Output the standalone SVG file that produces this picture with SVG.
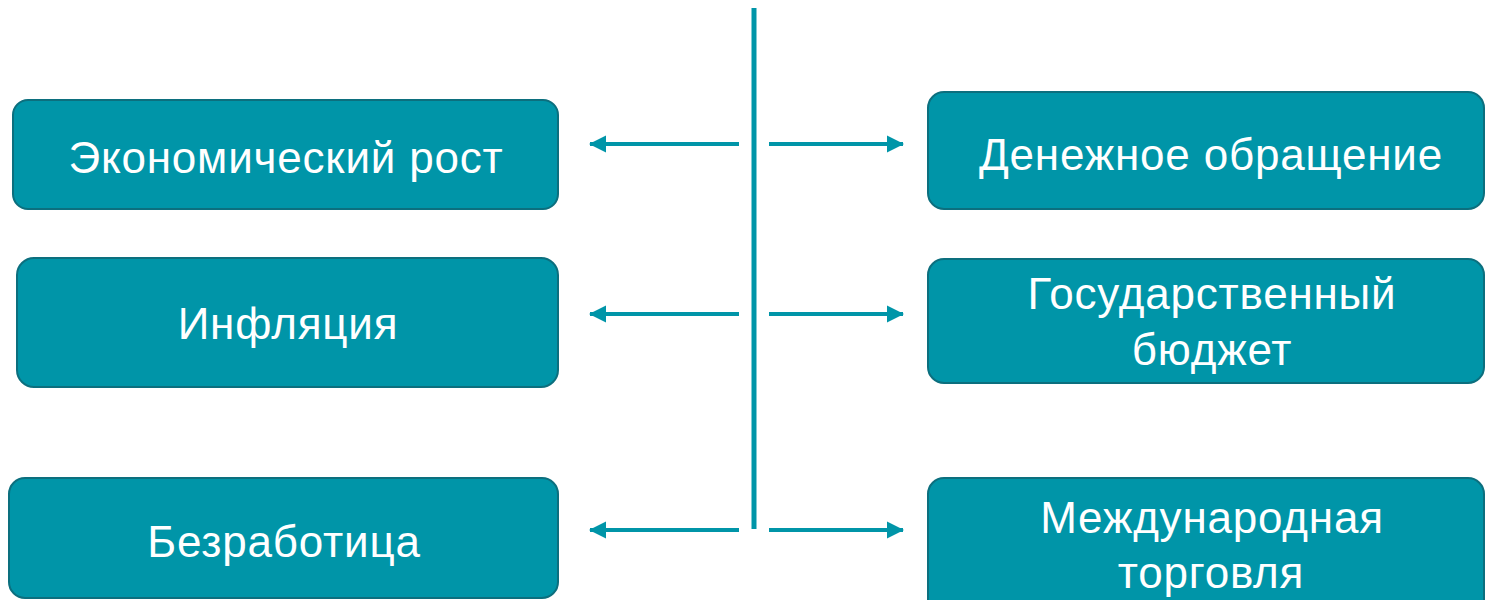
<svg xmlns="http://www.w3.org/2000/svg" width="1485" height="600" viewBox="0 0 1485 600">
  <defs>
    <style>
      .box { fill: #0095a8; stroke: #0c6f7e; stroke-width: 2; }
      .lbl { fill: #ffffff; font-family: "Liberation Sans", Arial, sans-serif; font-size: 44px; letter-spacing: 0.8px; text-anchor: middle; }
      .conn { stroke: #0095a8; stroke-width: 4; fill: none; }
    </style>
    <marker id="ah" markerUnits="userSpaceOnUse" markerWidth="18" markerHeight="18" viewBox="0 0 18 18" refX="16" refY="9" orient="auto">
      <path d="M0,0.5 L17,9 L0,17.5 Z" fill="#0095a8"/>
    </marker>
  </defs>
  <rect width="1485" height="600" fill="#ffffff"/>

  <g id="connectors">
    <line class="conn" x1="754" y1="8" x2="754" y2="529" style="stroke-width:5"/>
    <line class="conn" x1="739" y1="144" x2="590" y2="144" marker-end="url(#ah)"/>
    <line class="conn" x1="769" y1="144" x2="903" y2="144" marker-end="url(#ah)"/>
    <line class="conn" x1="739" y1="314" x2="590" y2="314" marker-end="url(#ah)"/>
    <line class="conn" x1="769" y1="314" x2="903" y2="314" marker-end="url(#ah)"/>
    <line class="conn" x1="739" y1="530" x2="590" y2="530" marker-end="url(#ah)"/>
    <line class="conn" x1="769" y1="530" x2="903" y2="530" marker-end="url(#ah)"/>
  </g>

  <g id="node-economic-growth">
    <rect class="box" x="13" y="100" width="545" height="109" rx="15"/>
    <text class="lbl" x="286" y="173">Экономический рост</text>
  </g>
  <g id="node-inflation">
    <rect class="box" x="17" y="258" width="541" height="129" rx="17"/>
    <text class="lbl" x="288" y="339">Инфляция</text>
  </g>
  <g id="node-unemployment">
    <rect class="box" x="9" y="478" width="549" height="120" rx="16"/>
    <text class="lbl" x="284" y="557">Безработица</text>
  </g>
  <g id="node-money-circulation">
    <rect class="box" x="928" y="92" width="556" height="117" rx="16"/>
    <text class="lbl" x="1211" y="170">Денежное обращение</text>
  </g>
  <g id="node-state-budget">
    <rect class="box" x="928" y="259" width="556" height="124" rx="16"/>
    <text class="lbl" x="1212" y="309">Государственный</text>
    <text class="lbl" x="1212" y="365">бюджет</text>
  </g>
  <g id="node-international-trade">
    <rect class="box" x="928" y="478" width="556" height="140" rx="16"/>
    <text class="lbl" x="1212" y="533">Международная</text>
    <text class="lbl" x="1211" y="588">торговля</text>
  </g>
</svg>
